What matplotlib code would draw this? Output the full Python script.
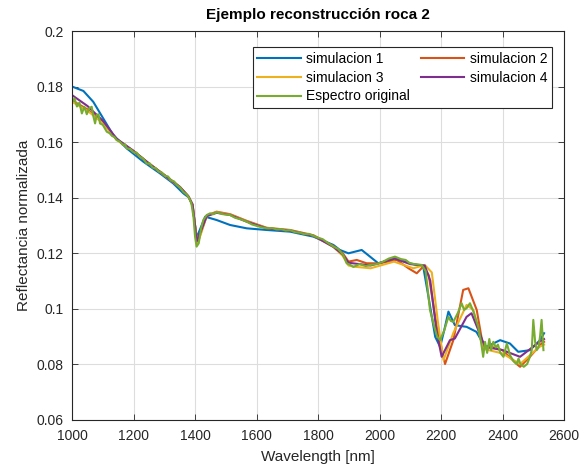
import matplotlib
matplotlib.use("Agg")
import matplotlib.pyplot as plt

# series data (wavelength nm, reflectance)
sim1_wl = [1000, 1037, 1069, 1102, 1134, 1178, 1232, 1286, 1329, 1362, 1380, 1392,
           1400, 1405, 1418, 1433, 1470, 1514, 1568, 1633, 1709, 1785, 1850, 1871,
           1899, 1942, 1996, 2050, 2099, 2142, 2159, 2181, 2197, 2210, 2224, 2245,
           2283, 2315, 2337, 2348, 2392, 2424, 2451, 2489, 2522, 2535]
sim1_val = [0.1800, 0.1784, 0.1745, 0.1684, 0.1625, 0.1577, 0.1529, 0.1487, 0.1451,
            0.1415, 0.1400, 0.1370, 0.1300, 0.1255, 0.1290, 0.1331, 0.1319, 0.1301,
            0.1289, 0.1283, 0.1277, 0.1259, 0.1229, 0.1211, 0.1199, 0.1211, 0.1163,
            0.1181, 0.1163, 0.1151, 0.1043, 0.0898, 0.0862, 0.0920, 0.0989, 0.0940,
            0.0934, 0.0916, 0.0874, 0.0862, 0.0886, 0.0874, 0.0844, 0.0850, 0.0886,
            0.0911]

sim2_wl = [1000, 1050, 1100, 1145, 1200, 1250, 1300, 1351, 1378, 1392, 1400, 1408,
           1418, 1438, 1470, 1514, 1568, 1633, 1709, 1785, 1850, 1880, 1899, 1926,
           1958, 2000, 2056, 2094, 2121, 2142, 2160, 2186, 2213, 2240, 2272, 2289,
           2316, 2337, 2370, 2400, 2446, 2457, 2489, 2527, 2535]
sim2_val = [0.1750, 0.1718, 0.1670, 0.1610, 0.1568, 0.1523, 0.1482, 0.1438, 0.1405,
            0.1375, 0.1300, 0.1235, 0.1270, 0.1335, 0.1349, 0.1340, 0.1316, 0.1291,
            0.1283, 0.1264, 0.1225, 0.1200, 0.1169, 0.1175, 0.1163, 0.1163, 0.1175,
            0.1145, 0.1127, 0.1151, 0.1120, 0.0935, 0.0800, 0.0886, 0.1067, 0.1073,
            0.0995, 0.0862, 0.0860, 0.0850, 0.0800, 0.0790, 0.0826, 0.0874, 0.0880]

sim3_wl = [1000, 1050, 1100, 1145, 1200, 1250, 1300, 1351, 1378, 1392, 1400, 1407,
           1418, 1438, 1470, 1514, 1568, 1633, 1709, 1785, 1850, 1880, 1899, 1915,
           1971, 2047, 2110, 2147, 2170, 2190, 2208, 2240, 2283, 2305, 2337, 2400,
           2457, 2520, 2535]
sim3_val = [0.1745, 0.1713, 0.1668, 0.1608, 0.1566, 0.1522, 0.1480, 0.1437, 0.1404,
            0.1372, 0.1295, 0.1232, 0.1265, 0.1333, 0.1347, 0.1338, 0.1314, 0.1290,
            0.1282, 0.1263, 0.1222, 0.1190, 0.1155, 0.1151, 0.1145, 0.1169, 0.1145,
            0.1157, 0.1130, 0.0950, 0.0814, 0.0912, 0.1013, 0.0995, 0.0855, 0.0838,
            0.0800, 0.0862, 0.0870]

sim4_wl = [1000, 1050, 1100, 1145, 1200, 1250, 1300, 1351, 1378, 1392, 1400, 1405,
           1418, 1438, 1470, 1514, 1568, 1633, 1709, 1785, 1850, 1880, 1899, 1971,
           2050, 2100, 2147, 2165, 2185, 2202, 2229, 2245, 2283, 2299, 2321, 2343,
           2400, 2457, 2520, 2535]
sim4_val = [0.1769, 0.1730, 0.1677, 0.1612, 0.1568, 0.1523, 0.1481, 0.1438, 0.1405,
            0.1375, 0.1300, 0.1241, 0.1275, 0.1333, 0.1345, 0.1337, 0.1313, 0.1289,
            0.1281, 0.1262, 0.1222, 0.1195, 0.1165, 0.1155, 0.1180, 0.1160, 0.1155,
            0.1100, 0.0920, 0.0826, 0.0886, 0.0892, 0.0970, 0.0983, 0.0923, 0.0862,
            0.0850, 0.0826, 0.0880, 0.0890]

orig_wl = [1000, 1008, 1016, 1024, 1032, 1040, 1048, 1056, 1064, 1070, 1075, 1080,
           1086, 1091, 1100, 1113, 1122, 1130, 1138, 1145, 1155, 1165, 1172, 1178,
           1190, 1200, 1210, 1221, 1232, 1243, 1252, 1262, 1272, 1282, 1292, 1302,
           1312, 1322, 1332, 1342, 1352, 1362, 1372, 1380, 1388, 1395, 1400, 1405,
           1412, 1420, 1427, 1438, 1449, 1460, 1470, 1490, 1514, 1530, 1550, 1568,
           1585, 1600, 1615, 1633, 1650, 1665, 1680, 1695, 1709, 1725, 1740, 1755,
           1770, 1785, 1800, 1815, 1830, 1850, 1865, 1882, 1893, 1905, 1915, 1935,
           1955, 1971, 1990, 2010, 2030, 2050, 2070, 2085, 2099, 2115, 2137, 2150,
           2164, 2175, 2187, 2197, 2210, 2224, 2232, 2240, 2255, 2267, 2275, 2283,
           2294, 2305, 2321, 2330, 2337, 2343, 2350, 2357, 2363, 2370, 2378, 2385,
           2393, 2403, 2414, 2425, 2436, 2446, 2452, 2458, 2469, 2480, 2489, 2495,
           2500, 2506, 2511, 2517, 2522, 2527, 2533]
orig_val = [0.1745, 0.1757, 0.1728, 0.1742, 0.1703, 0.1727, 0.1700, 0.1722, 0.1727,
            0.1690, 0.1667, 0.1697, 0.1700, 0.1667, 0.1662, 0.1637, 0.1632, 0.1622,
            0.1618, 0.1607, 0.1602, 0.1590, 0.1592, 0.1577, 0.1575, 0.1563, 0.1562,
            0.1547, 0.1540, 0.1522, 0.1524, 0.1508, 0.1506, 0.1494, 0.1490, 0.1478,
            0.1476, 0.1462, 0.1458, 0.1444, 0.1436, 0.1420, 0.1412, 0.1400, 0.1380,
            0.1330, 0.1260, 0.1223, 0.1235, 0.1290, 0.1319, 0.1337, 0.1343, 0.1340,
            0.1347, 0.1340, 0.1337, 0.1327, 0.1321, 0.1313, 0.1303, 0.1298, 0.1293,
            0.1289, 0.1290, 0.1285, 0.1286, 0.1281, 0.1283, 0.1275, 0.1274, 0.1268,
            0.1269, 0.1262, 0.1255, 0.1250, 0.1238, 0.1223, 0.1215, 0.1193, 0.1163,
            0.1157, 0.1150, 0.1160, 0.1153, 0.1157, 0.1160, 0.1168, 0.1180, 0.1187,
            0.1178, 0.1175, 0.1163, 0.1160, 0.1157, 0.1135, 0.0995, 0.0947, 0.0900,
            0.0886, 0.0920, 0.0970, 0.0955, 0.0952, 0.0985, 0.1019, 0.0995, 0.1001,
            0.1019, 0.0990, 0.0934, 0.0880, 0.0826, 0.0880, 0.0840, 0.0890, 0.0850,
            0.0880, 0.0860, 0.0870, 0.0840, 0.0826, 0.0874, 0.0830, 0.0810, 0.0800,
            0.0820, 0.0800, 0.0790, 0.0800, 0.0826, 0.0850, 0.0959, 0.0880, 0.0850,
            0.0860, 0.0900, 0.0959, 0.0850]

labels = ["simulacion 1", "simulacion 2", "simulacion 3", "simulacion 4", "Espectro original"]
colors = ["#0072BD", "#D95319", "#EDB120", "#7E2F8E", "#77AC30"]

plt.rcParams['font.family'] = ['Liberation Sans', 'DejaVu Sans']

fig = plt.figure(figsize=(5.87, 4.70), dpi=100)
ax = fig.add_axes([0.1227, 0.1074, 0.8382, 0.8266])

series = [(sim1_wl, sim1_val), (sim2_wl, sim2_val), (sim3_wl, sim3_val),
          (sim4_wl, sim4_val), (orig_wl, orig_val)]
lines = []
for (wl, val), lab, col in zip(series, labels, colors):
    ln, = ax.plot(wl, val, color=col, linewidth=1.5, label=lab)
    lines.append(ln)

ax.set_xlim(1000, 2600)
ax.set_ylim(0.06, 0.2)
ax.set_xticks(range(1000, 2601, 200))
ax.set_yticks([0.06, 0.08, 0.1, 0.12, 0.14, 0.16, 0.18, 0.2])
ax.set_yticklabels(["0.06", "0.08", "0.1", "0.12", "0.14", "0.16", "0.18", "0.2"])

# matlab look: inward ticks on all sides, light grid
ax.tick_params(direction='in', top=True, right=True, length=4, width=0.6,
               labelsize=10, colors='#262626')
ax.tick_params(axis='x', pad=7)
ax.tick_params(axis='y', pad=6)
for sp in ax.spines.values():
    sp.set_color('#262626')
    sp.set_linewidth(0.8)
ax.grid(True, color='#dddddd', linewidth=0.8)
ax.set_axisbelow(True)

ax.set_xlabel("Wavelength [nm]", fontsize=11, color='#262626', labelpad=5)
ax.set_ylabel("Reflectancia normalizada", fontsize=11, color='#262626', labelpad=4)
ax.set_title("Ejemplo reconstrucción roca 2", fontsize=11, fontweight='bold', pad=9)

# legend filled row by row like matlab: reorder so columns come out right
order = [0, 2, 4, 1, 3]
leg = ax.legend([lines[i] for i in order], [labels[i] for i in order],
                loc='upper right', bbox_to_anchor=(0.99, 0.977), ncol=2,
                fontsize=10, handlelength=3.1, handletextpad=0.4,
                columnspacing=0.8, labelspacing=0.35, borderpad=0.35,
                fancybox=False, framealpha=1, edgecolor='#262626')
leg.get_frame().set_linewidth(0.8)

fig.savefig("out.png", dpi=100)
